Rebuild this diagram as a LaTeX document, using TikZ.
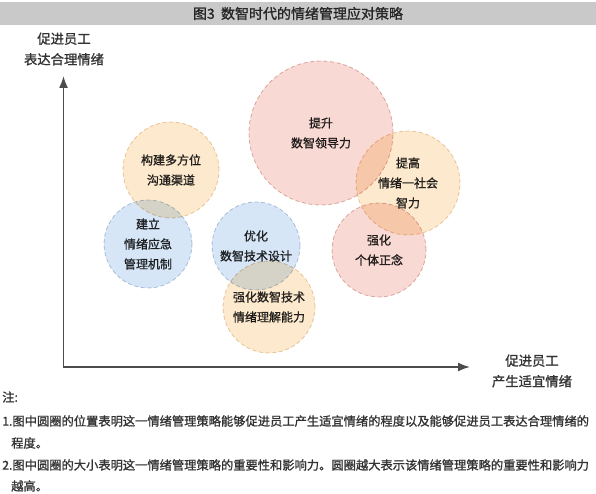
\documentclass[tikz,border=0pt]{standalone}
\usepackage{fontspec}
\setmainfont{Noto Sans CJK SC}[RawFeature={embolden=1.2}]
\usetikzlibrary{arrows.meta}
\definecolor{warmfill}{HTML}{FDEACE}
\definecolor{warmedge}{HTML}{E8CDA8}
\definecolor{coolfill}{HTML}{D7E6F7}
\definecolor{cooledge}{HTML}{B8C8DB}
\definecolor{rosefill}{HTML}{F9D9D3}
\definecolor{roseedge}{HTML}{DEB6B0}
\definecolor{inkgray}{HTML}{333333}
\tikzset{
  ball/.style={circle,inner sep=0pt,outer sep=0pt,dashed,dash pattern=on 3pt off 2pt,
    line width=0.6pt,blend mode=multiply,align=center,text=inkgray,
    font=\fontsize{9}{15}\selectfont},
  warmball/.style={ball,fill=warmfill,draw=warmedge},
  coolball/.style={ball,fill=coolfill,draw=cooledge},
  roseball/.style={ball,fill=rosefill,draw=roseedge},
  axislbl/.style={align=center,text=inkgray,font=\fontsize{10}{15.5}\selectfont},
  noteline/.style={anchor=west,inner sep=0pt,text=inkgray,font=\fontsize{9.2}{11}\selectfont}
}
\begin{document}
\begin{tikzpicture}[x=0.75pt,y=-0.75pt,>=Latex]
  \useasboundingbox (0,0) rectangle (596,493);
  % title bar
  \fill[black!21] (0,2) rectangle (596,25);
  \node[text=black!85,font=\fontsize{10.5}{12}\selectfont] (title) at (298,13.5) {图3\ \ 数智时代的情绪管理应对策略};
  % axes
  \coordinate (origin) at (63.5,367);
  \coordinate (ytop) at (63.5,76);
  \coordinate (xend) at (470,367);
  \draw[<->,line width=1.3pt,black!70] (ytop) -- (origin) -- (xend);
  \node[axislbl] (ylbl) at (64,49) {促进员工\\表达合理情绪};
  \node[axislbl] (xlbl) at (532,371) {促进员工\\产生适宜情绪};
  % strategy circles
  \node[warmball,minimum size=72pt] (goutong) at (171,170) {构建多方位\\沟通渠道};
  \node[coolball,minimum size=66pt] (yingji) at (148,244) {建立\\情绪应急\\管理机制};
  \node[coolball,minimum size=66pt] (youhua) at (256,246) {优化\\数智技术设计};
  \node[warmball,minimum size=69pt] (lijie) at (269,307) {强化数智技术\\情绪理解能力};
  \node[roseball,minimum size=108pt] (lingdao) at (321,133) {提升\\数智领导力};
  \node[warmball,minimum size=78pt] (zhili) at (408,183) {提高\\情绪一社会\\智力};
  \node[roseball,minimum size=70.5pt] (zhengnian) at (379,250) {强化\\个体正念};
  % notes
  \node[noteline] (zhu) at (2,397) {注:};
  \node[noteline] (note1) at (2,421) {1.图中圆圈的位置表明这一情绪管理策略能够促进员工产生适宜情绪的程度以及能够促进员工表达合理情绪的};
  \node[noteline] (note1b) at (11,443) {程度。};
  \node[noteline] (note2) at (2,465) {2.图中圆圈的大小表明这一情绪管理策略的重要性和影响力。圆圈越大表示该情绪管理策略的重要性和影响力};
  \node[noteline] (note2b) at (11,486) {越高。};
\end{tikzpicture}
\end{document}
